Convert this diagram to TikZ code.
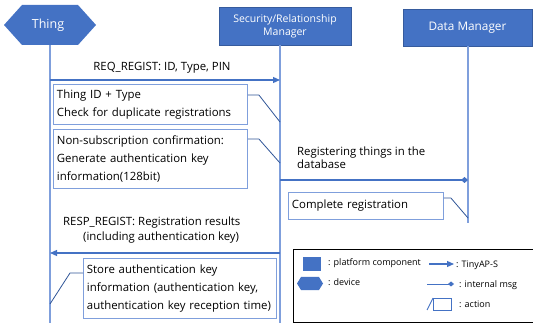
\documentclass[tikz,border=0pt]{standalone}
\usepackage{fontspec}
\setmainfont{Open Sans}
\usetikzlibrary{arrows.meta,shapes.geometric}
\definecolor{pblue}{HTML}{4472C4}
\definecolor{lblue}{HTML}{7F9FDC}
\definecolor{dblue}{HTML}{2F5597}
\tikzset{
  hdr/.style={fill=pblue,draw=pblue!80!black,line width=0.4pt,text=white,font=\fontsize{10.5}{13}\selectfont},
  life/.style={draw=lblue,line width=1.1pt},
  actbox/.style={draw=lblue,line width=0.9pt,fill=white,rectangle,anchor=north west,align=left,inner sep=3.5pt,font=\fontsize{11.4}{18}\selectfont},
  actline/.style={draw=dblue,line width=0.8pt},
  msg/.style={draw=pblue,line width=1.2pt,-{Triangle[length=7pt,width=6pt]}},
  imsg/.style={draw=pblue,line width=1.2pt,-{Diamond[length=7pt,width=6pt]}},
  lbl/.style={font=\fontsize{11.4}{13}\selectfont,inner sep=0pt,align=left},
  leglbl/.style={font=\fontsize{9}{10}\selectfont,inner sep=0pt,anchor=west},
}
\begin{document}
\begin{tikzpicture}[x=1pt,y=-1pt]
\useasboundingbox (0,0) rectangle (533,323);
% headers
\fill[pblue] (4,25) -- (22,5) -- (78,5) -- (96,25) -- (78,45) -- (22,45) -- cycle;
\node[text=white,font=\fontsize{12.5}{14}\selectfont] (thing) at (48,25) {Thing};
\node[hdr,minimum width=132pt,minimum height=38pt,inner sep=1pt,align=center] (sec) at (285,26) {Security/Relationship\\Manager};
\node[hdr,minimum width=129pt,minimum height=37pt,font=\fontsize{11.8}{13}\selectfont] (dm) at (467.5,27.5) {Data Manager};
% lifelines
\coordinate (tB) at (50,323);
\coordinate (sB) at (280,323);
\coordinate (dB) at (468,223);
\coordinate (tT) at (50,45);
\coordinate (sT) at (280,45);
\coordinate (dT) at (468,46);
\draw[life] (tT) -- (tB);
\draw[life] (sT) -- (sB);
\draw[life] (dT) -- (dB);
% REQ
\coordinate (r1a) at (50,80);
\coordinate (r1b) at (280,80);
\draw[msg] (r1a) -- (r1b);
\node[lbl] (l1) at (162,68) {REQ\_REGIST: ID, Type, PIN};
% box 1
\node[actbox,minimum width=194pt,minimum height=40pt,text width=187pt] (b1) at (53,84) {Thing ID + Type\\Check for duplicate registrations};
\coordinate (c1) at (280,122);
\draw[actline] (b1.north east) ++(0,11) -- ++(11,0) -- (c1);
% box 2
\node[actbox,minimum width=194pt,minimum height=59pt,text width=187pt] (b2) at (53,129) {Non-subscription confirmation:\\Generate authentication key\\information(128bit)};
\coordinate (c2) at (280,163);
\draw[actline] (b2.north east) ++(0,10) -- ++(11,0) -- (c2);
% internal msg
\coordinate (r2a) at (280,180);
\coordinate (r2b) at (468,180);
\draw[imsg] (r2a) -- (r2b);
\node[lbl,anchor=north west] (l2) at (297,147) {Registering things in the\\database};
% box 3
\node[actbox,minimum width=155pt,minimum height=27pt,text width=148pt,font=\fontsize{11.4}{12}\selectfont] (b3) at (288,192) {Complete registration};
\coordinate (c3) at (468,218);
\draw[actline] (b3.north east) ++(0,6) -- ++(7,0) -- (c3);
% RESP
\coordinate (r3a) at (280,253);
\coordinate (r3b) at (50,253);
\draw[msg] (r3a) -- (r3b);
\node[lbl,anchor=north west,font=\fontsize{11.4}{15}\selectfont] (l3) at (63,217) {RESP\_REGIST: Registration results\\\hspace*{20pt}(including authentication key)};
% box 4
\node[actbox,minimum width=193pt,minimum height=60pt,text width=186pt] (b4) at (83,258) {Store authentication key\\information (authentication key,\\authentication key reception time)};
\coordinate (c4) at (50,304);
\draw[actline] (b4.north west) ++(0,15) -- ++(-13,0) -- (c4);
% legend
\node[draw=black,line width=1pt,fill=white,minimum width=240pt,minimum height=73pt,anchor=north west,inner sep=0pt] (leg) at (293,249) {};
\fill[pblue] (303,257) rectangle (321,271);
\node[leglbl] (lg1) at (328,263) {: platform component};
\fill[pblue] (297,283.5) -- (301,277) -- (319,277) -- (323,283.5) -- (319,290) -- (301,290) -- cycle;
\node[leglbl] (lg2) at (328,282) {: device};
\coordinate (a1) at (429,264);
\coordinate (a2) at (454,264);
\draw[msg] (a1) -- (a2);
\node[leglbl] (lg3) at (456,265) {: TinyAP-S};
\coordinate (d1) at (427,284);
\coordinate (d2) at (454,284);
\draw[draw=pblue,line width=0.9pt,-{Diamond[length=6pt,width=5pt]}] (d1) -- (d2);
\node[leglbl] (lg4) at (459,285) {: internal msg};
\node[draw=pblue,line width=0.9pt,minimum width=18pt,minimum height=12pt,inner sep=0pt,anchor=north west] (ab) at (433,298) {};
\coordinate (ac) at (427,310);
\draw[draw=pblue,line width=0.9pt] (ab.north west) -- (ac);
\node[leglbl] (lg5) at (459,304) {: action};
\end{tikzpicture}
\end{document}
